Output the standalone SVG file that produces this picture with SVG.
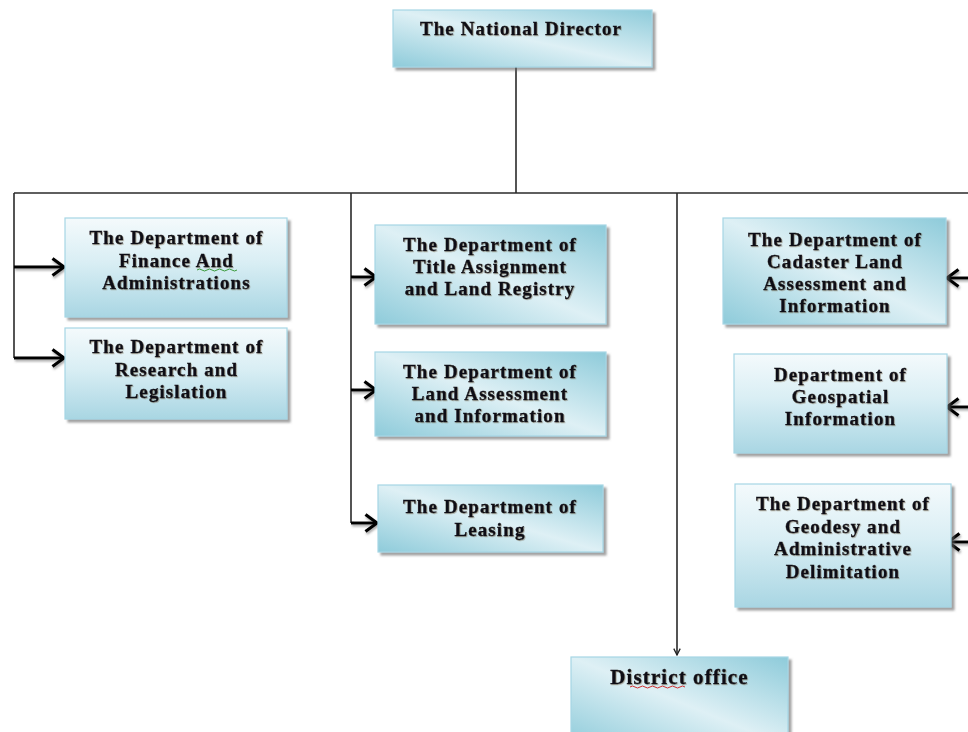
<svg xmlns="http://www.w3.org/2000/svg" width="968" height="732" viewBox="0 0 968 732">
<defs>
<linearGradient id="gd" x1="1" y1="0" x2="0" y2="1">
<stop offset="0" stop-color="#8ecbda"/>
<stop offset="0.5" stop-color="#def0f5"/>
<stop offset="1" stop-color="#8ecbda"/>
</linearGradient>
<linearGradient id="gv" x1="0" y1="0" x2="0" y2="1">
<stop offset="0" stop-color="#f4fafc"/>
<stop offset="0.45" stop-color="#d9eef4"/>
<stop offset="1" stop-color="#a9d6e3"/>
</linearGradient>
<filter id="sh" x="-5%" y="-5%" width="115%" height="120%">
<feDropShadow dx="3" dy="3" stdDeviation="1" flood-color="#666" flood-opacity="0.6"/>
</filter>
<filter id="ash" filterUnits="userSpaceOnUse" x="0" y="0" width="968" height="732">
<feDropShadow dx="1" dy="2" stdDeviation="1" flood-color="#555" flood-opacity="0.5"/>
</filter>
<filter id="tsh" filterUnits="userSpaceOnUse" x="0" y="0" width="968" height="732">
<feDropShadow dx="0.8" dy="0.8" stdDeviation="0.4" flood-color="#6a5a40" flood-opacity="0.5"/>
</filter>
<marker id="chev" viewBox="0 0 15 20" refX="13" refY="10" markerWidth="15" markerHeight="20" markerUnits="userSpaceOnUse" orient="auto">
<path d="M1.5,1.5 L13,10 L1.5,18.5" fill="none" stroke="#000" stroke-width="3.2"/>
</marker>
<marker id="small" viewBox="0 0 10 10" refX="9" refY="5" markerWidth="8" markerHeight="8" markerUnits="userSpaceOnUse" orient="auto">
<path d="M1,1 L9,5 L1,9" fill="none" stroke="#222" stroke-width="1.6"/>
</marker>
<style>
.box{stroke:#a6d6e4;stroke-width:1.2;filter:url(#sh)}
.d{fill:url(#gd)}
.v{fill:url(#gv)}
.t{font-family:"Liberation Serif","Times New Roman",serif;font-weight:bold;font-size:19px;letter-spacing:1.1px;fill:#111118;stroke:#111118;stroke-width:0.35;text-anchor:middle;filter:url(#tsh)}
.big{font-size:21px}
.line{fill:none;stroke:#2a2a2a;stroke-width:1.6}
.stub{fill:none;stroke:#000;stroke-width:3;marker-end:url(#chev);filter:url(#ash)}
.wavy{fill:none;stroke-width:1}
</style>
</defs>

<g id="connectors">
<path class="line" d="M516,67 V193"/>
<path class="line" d="M14,193 H968"/>
<path class="line" d="M14,193 V358"/>
<path class="line" d="M351,193 V523"/>
<path class="line" d="M677,193 V655" marker-end="url(#small)"/>
<path class="stub" d="M14,267 H64"/>
<path class="stub" d="M14,358 H64"/>
<path class="stub" d="M351,277 H376"/>
<path class="stub" d="M351,390 H376"/>
<path class="stub" d="M351,523 H377"/>
<path class="stub" d="M970,278 H947"/>
<path class="stub" d="M970,407 H947"/>
<path class="stub" d="M970,542 H948"/>
</g>

<g id="national-director">
<rect class="box d" x="393" y="10" width="259" height="57"/>
<text class="t" x="521" y="34.5">The National Director</text>
</g>

<g id="finance">
<rect class="box v" x="65" y="218" width="222" height="99"/>
<text class="t" x="176.5" y="244">The Department of</text>
<text class="t" x="176.5" y="266.5">Finance And</text>
<text class="t" x="176.5" y="289">Administrations</text>
<path class="wavy" stroke="#3a9a3a" d="M197,270 q2.5,-2 5,0 t5,0 t5,0 t5,0 t5,0 t5,0 t5,0 t5,0"/>
</g>

<g id="research">
<rect class="box v" x="65" y="328" width="222" height="91"/>
<text class="t" x="176.5" y="353">The Department of</text>
<text class="t" x="176.5" y="375.5">Research and</text>
<text class="t" x="176.5" y="398">Legislation</text>
</g>

<g id="title-registry">
<rect class="box d" x="375" y="225" width="231" height="99"/>
<text class="t" x="490" y="251">The Department of</text>
<text class="t" x="490" y="273">Title Assignment</text>
<text class="t" x="490" y="295">and Land Registry</text>
</g>

<g id="land-assessment">
<rect class="box d" x="375" y="352" width="231" height="84"/>
<text class="t" x="490" y="378">The Department of</text>
<text class="t" x="490" y="400">Land Assessment</text>
<text class="t" x="490" y="422">and Information</text>
</g>

<g id="leasing">
<rect class="box d" x="378" y="485" width="225" height="67"/>
<text class="t" x="490" y="513">The Department of</text>
<text class="t" x="490" y="535.5">Leasing</text>
</g>

<g id="cadaster">
<rect class="box d" x="723" y="218" width="223" height="106"/>
<text class="t" x="835" y="246">The Department of</text>
<text class="t" x="835" y="268">Cadaster Land</text>
<text class="t" x="835" y="290">Assessment and</text>
<text class="t" x="835" y="312">Information</text>
</g>

<g id="geospatial">
<rect class="box v" x="734" y="354" width="213" height="99"/>
<text class="t" x="840.5" y="381">Department of</text>
<text class="t" x="840.5" y="403">Geospatial</text>
<text class="t" x="840.5" y="425">Information</text>
</g>

<g id="geodesy">
<rect class="box v" x="735" y="484" width="216" height="123"/>
<text class="t" x="843" y="510">The Department of</text>
<text class="t" x="843" y="532.5">Geodesy and</text>
<text class="t" x="843" y="555">Administrative</text>
<text class="t" x="843" y="577.5">Delimitation</text>
</g>

<g id="district-office">
<rect class="box d" x="571" y="657" width="217" height="90"/>
<text class="t big" x="679.5" y="684">District office</text>
<path class="wavy" stroke="#d03030" d="M630,687 q2.5,-2 5,0 t5,0 t5,0 t5,0 t5,0 t5,0 t5,0 t5,0 t5,0 t5,0 t5,0"/>
</g>
</svg>
